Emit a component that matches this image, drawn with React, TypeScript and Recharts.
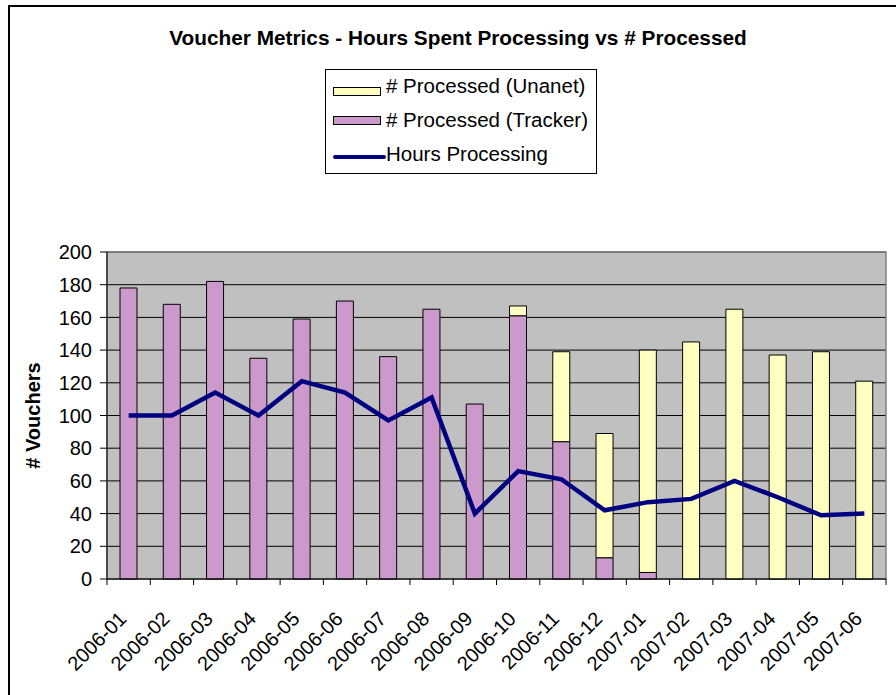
import React from 'react';
import {
  ComposedChart,
  Bar,
  Line,
  XAxis,
  YAxis,
  CartesianGrid,
  ReferenceArea,
  Label,
} from 'recharts';

const FONT = '"Liberation Sans", Arial, sans-serif';

const months = [
  '2006-01', '2006-02', '2006-03', '2006-04', '2006-05', '2006-06',
  '2006-07', '2006-08', '2006-09', '2006-10', '2006-11', '2006-12',
  '2007-01', '2007-02', '2007-03', '2007-04', '2007-05', '2007-06',
];
const processedTracker = [178, 168, 182, 135, 159, 170, 136, 165, 107, 161, 84, 13, 4, null, null, null, null, null];
const processedUnanet = [null, null, null, null, null, null, null, null, null, 6, 55, 76, 136, 145, 165, 137, 139, 121];
const hoursProcessing = [100, 100, 114, 100, 121, 114, 97, 111, 40, 66, 61, 42, 47, 49, 60, 50, 39, 40];
const yTicks = [0, 20, 40, 60, 80, 100, 120, 140, 160, 180, 200];

const data = months.map((m, i) => ({
  month: m,
  tracker: processedTracker[i],
  unanet: processedUnanet[i],
  hours: hoursProcessing[i],
}));

const XTick = (props: any) => {
  const { x, y, payload, index, visibleTicksCount } = props;
  const half = payload && typeof payload.offset === 'number' ? payload.offset : 0;
  const ax = x - 1;
  const ay = y + 41;
  const isLast = index === (visibleTicksCount ?? months.length) - 1;
  return (
    <g>
      <line x1={x - half} x2={x - half} y1={y} y2={y + 6} stroke="#000" strokeWidth={1} />
      {isLast && <line x1={x + half} x2={x + half} y1={y} y2={y + 6} stroke="#000" strokeWidth={1} />}
      <text
        x={ax}
        y={ay}
        transform={`rotate(-45, ${ax}, ${ay})`}
        textAnchor="end"
        fontSize={20}
        fontFamily={FONT}
        fill="#000"
      >
        {payload.value}
      </text>
    </g>
  );
};

const YLabel = (props: any) => {
  const vb = props.viewBox || { x: 0, y: 252, width: 107, height: 327 };
  const cx = vb.x + 33;
  const cy = vb.y + vb.height / 2;
  return (
    <text
      x={cx}
      y={cy}
      transform={`rotate(-90, ${cx}, ${cy})`}
      textAnchor="middle"
      dominantBaseline="central"
      fontSize={20}
      fontWeight="bold"
      fontFamily={FONT}
      fill="#000"
    >
      # Vouchers
    </text>
  );
};

const legendItems = [
  { label: '# Processed (Unanet)', kind: 'rect', color: '#FFFFC0' },
  { label: '# Processed (Tracker)', kind: 'rect', color: '#CC99CC' },
  { label: 'Hours Processing', kind: 'line', color: '#000080' },
];

export default function App() {
  return (
    <div
      style={{
        position: 'absolute',
        left: 0,
        top: 0,
        width: 896,
        height: 695,
        overflow: 'hidden',
        background: '#fff',
        fontFamily: FONT,
      }}
    >
      <div
        style={{
          position: 'absolute',
          left: 8,
          top: 5,
          width: 1000,
          height: 1000,
          border: '2px solid #000',
          boxSizing: 'border-box',
        }}
      />
      <div style={{ position: 'absolute', left: 0, top: 0 }}>
        <ComposedChart
          width={896}
          height={695}
          data={data}
          margin={{ top: 252, right: 10, bottom: 0, left: 0 }}
          barSize={17}
        >
          <CartesianGrid vertical={false} stroke="#000" strokeWidth={1} fill="#C0C0C0" fillOpacity={1} />
          <ReferenceArea
            x1={months[0]}
            x2={months[months.length - 1]}
            y1={0}
            y2={200}
            fill="none"
            stroke="#808080"
            strokeWidth={1.5}
            ifOverflow="visible"
          />
          <XAxis
            dataKey="month"
            height={116}
            interval={0}
            tickLine={false}
            tickSize={0}
            tickMargin={0}
            axisLine={{ stroke: '#000', strokeWidth: 1 }}
            tick={<XTick />}
          />
          <YAxis
            width={107}
            domain={[0, 200]}
            ticks={yTicks}
            interval={0}
            tickSize={7}
            tickMargin={8}
            axisLine={{ stroke: '#000', strokeWidth: 1 }}
            tickLine={{ stroke: '#000', strokeWidth: 1 }}
            tick={{ fontSize: 20, fill: '#000', fontFamily: FONT }}
          >
            <Label content={<YLabel />} />
          </YAxis>
          <Bar dataKey="tracker" stackId="a" fill="#CC99CC" stroke="#000" strokeWidth={1} isAnimationActive={false} />
          <Bar dataKey="unanet" stackId="a" fill="#FFFFC0" stroke="#000" strokeWidth={1} isAnimationActive={false} />
          <Line
            dataKey="hours"
            type="linear"
            stroke="#000080"
            strokeWidth={4.5}
            dot={false}
            activeDot={false}
            isAnimationActive={false}
          />
        </ComposedChart>
      </div>
      <div
        style={{
          position: 'absolute',
          left: 0,
          top: 28,
          width: 916,
          textAlign: 'center',
          fontSize: 20.8,
          lineHeight: '20px',
          fontWeight: 'bold',
          whiteSpace: 'nowrap',
          color: '#000',
        }}
      >
        Voucher Metrics - Hours Spent Processing vs # Processed
      </div>
      <div
        style={{
          position: 'absolute',
          left: 325,
          top: 69,
          width: 272,
          height: 105,
          border: '1px solid #000',
          boxSizing: 'border-box',
          background: '#fff',
        }}
      >
        {legendItems.map((it, i) => (
          <React.Fragment key={it.label}>
            {it.kind === 'rect' ? (
              <div
                style={{
                  position: 'absolute',
                  left: 7,
                  top: 17 + i * 29,
                  width: 48,
                  height: 9,
                  background: it.color,
                  border: '1px solid #000',
                  boxSizing: 'border-box',
                }}
              />
            ) : (
              <div
                style={{
                  position: 'absolute',
                  left: 7,
                  top: 85,
                  width: 53,
                  height: 4,
                  background: it.color,
                  borderRadius: 2,
                }}
              />
            )}
            <div
              style={{
                position: 'absolute',
                left: 60,
                top: 6 + i * 34,
                fontSize: 20.5,
                lineHeight: '20px',
                whiteSpace: 'nowrap',
                color: '#000',
              }}
            >
              {it.label}
            </div>
          </React.Fragment>
        ))}
      </div>
    </div>
  );
}
